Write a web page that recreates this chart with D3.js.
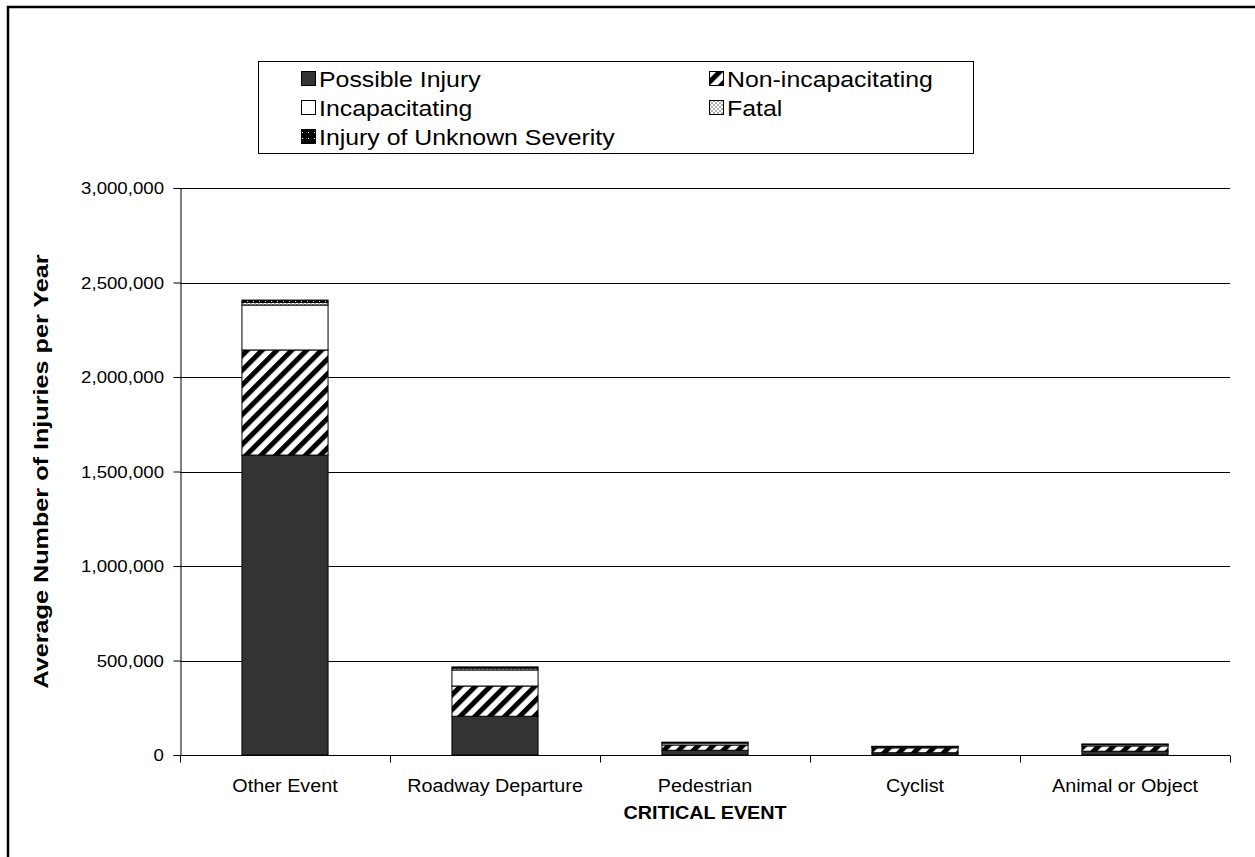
<!DOCTYPE html>
<html>
<head>
<meta charset="utf-8">
<script src="https://cdn.jsdelivr.net/npm/d3@7"></script>
<style>
  body { margin: 0; background: #fff; }
  text { font-family: "Liberation Sans", Arial, sans-serif; fill: #000; }
</style>
</head>
<body>
<div id="chart"></div>
<script>
// Data
var categories = ["Other Event", "Roadway Departure", "Pedestrian", "Cyclist", "Animal or Object"];
var possibleInjury = [1587000, 205000, 25000, 12000, 20000];
var nonIncapacitating = [556000, 160000, 28000, 26000, 28000];
var incapacitating = [238000, 85000, 10000, 6000, 7000];
var fatal = [14000, 10000, 3000, 1000, 1500];
var unknownSeverity = [12000, 6000, 2000, 1000, 1500];
var yTicks = [0, 500000, 1000000, 1500000, 2000000, 2500000, 3000000];

var seriesKeys = ["possible", "nonincap", "incap", "fatal", "unknown"];
var seriesNames = ["Possible Injury", "Non-incapacitating", "Incapacitating", "Fatal", "Injury of Unknown Severity"];

var width = 1255, height = 857;
var plot = {left: 180, right: 1230, top: 188, bottom: 755};
var stretch = 1.13;   // the source text runs a bit wider than Liberation Sans

var rows = categories.map(function(c, i) {
    return {cat: c, possible: possibleInjury[i], nonincap: nonIncapacitating[i],
            incap: incapacitating[i], fatal: fatal[i], unknown: unknownSeverity[i]};
});

var svg = d3.select("#chart").append("svg")
    .attr("width", width)
    .attr("height", height);

// text placed with a small horizontal stretch
function addText(parent, x, y, str, size, anchor, bold) {
    return parent.append("text")
        .attr("transform", "translate(" + x + "," + y + ") scale(" + stretch + ",1)")
        .attr("text-anchor", anchor || "start")
        .style("font-size", size + "px")
        .style("font-weight", bold ? "bold" : "normal")
        .text(str);
}

// patterns
var defs = svg.append("defs");

var hatch = defs.append("pattern")
    .attr("id", "hatch")
    .attr("patternUnits", "userSpaceOnUse")
    .attr("width", 10.5).attr("height", 10.5)
    .attr("patternTransform", "rotate(45)");
hatch.append("rect").attr("width", 10.5).attr("height", 10.5).attr("fill", "#fff");
hatch.append("rect").attr("width", 5).attr("height", 10.5).attr("fill", "#000");

var checker = defs.append("pattern")
    .attr("id", "checker")
    .attr("patternUnits", "userSpaceOnUse")
    .attr("width", 4).attr("height", 4);
checker.append("rect").attr("width", 4).attr("height", 4).attr("fill", "#fff");
checker.append("rect").attr("width", 2).attr("height", 2).attr("fill", "#b0b0b0");
checker.append("rect").attr("x", 2).attr("y", 2).attr("width", 2).attr("height", 2).attr("fill", "#b0b0b0");

var dots = defs.append("pattern")
    .attr("id", "dots")
    .attr("patternUnits", "userSpaceOnUse")
    .attr("width", 6).attr("height", 6);
dots.append("rect").attr("width", 6).attr("height", 6).attr("fill", "#000");
dots.append("rect").attr("x", 1).attr("y", 1).attr("width", 1).attr("height", 1).attr("fill", "#fff");

var fills = {possible: "#333333", nonincap: "url(#hatch)", incap: "#ffffff",
             fatal: "url(#checker)", unknown: "url(#dots)"};

// outer frame
svg.append("rect")
    .attr("x", 8).attr("y", 7)
    .attr("width", 1300).attr("height", 900)
    .attr("fill", "none")
    .attr("stroke", "#000")
    .attr("stroke-width", 2.5);

var x = d3.scaleBand()
    .domain(categories)
    .range([plot.left, plot.right])
    .paddingInner(0.59)
    .paddingOuter(0.295);

var xOuter = d3.scaleBand()
    .domain(categories)
    .range([plot.left, plot.right]);

var y = d3.scaleLinear()
    .domain([0, 3000000])
    .range([plot.bottom, plot.top]);

// gridlines
svg.append("g")
    .selectAll("line")
    .data(yTicks.slice(1))
    .enter().append("line")
        .attr("x1", plot.left).attr("x2", plot.right)
        .attr("y1", function(d) { return Math.round(y(d)) + 0.5; })
        .attr("y2", function(d) { return Math.round(y(d)) + 0.5; })
        .attr("stroke", "#000")
        .attr("stroke-width", 1);

// bars
var stack = d3.stack().keys(seriesKeys);

var serie = svg.append("g")
    .selectAll("g")
    .data(stack(rows))
    .enter().append("g")
        .attr("fill", function(d) { return fills[d.key]; });

serie.selectAll("rect")
    .data(function(d) { return d; })
    .enter().append("rect")
        .attr("x", function(d) { return x(d.data.cat); })
        .attr("y", function(d) { return y(d[1]); })
        .attr("width", x.bandwidth())
        .attr("height", function(d) { return y(d[0]) - y(d[1]); })
        .attr("stroke", "#000")
        .attr("stroke-width", 1);

// y axis: line and ticks from d3, labels drawn by hand to allow the stretch
var yAxis = svg.append("g")
    .attr("transform", "translate(" + (plot.left + 0.5) + ",0)")
    .call(d3.axisLeft(y).tickValues(yTicks).tickFormat("").tickSize(7));
yAxis.select(".domain").attr("stroke", "#000");

var fmt = d3.format(",");
var yLab = svg.append("g");
yTicks.forEach(function(v) {
    addText(yLab, 164, y(v) + 6, fmt(v), 16.5, "end");
});

// x axis with ticks at category boundaries
var xg = svg.append("g")
    .attr("transform", "translate(0," + (plot.bottom + 0.5) + ")");
xg.append("line")
    .attr("x1", plot.left).attr("x2", plot.right)
    .attr("stroke", "#000");
var bounds = categories.map(function(c) { return xOuter(c); }).concat([plot.right]);
xg.selectAll(".tk")
    .data(bounds)
    .enter().append("line")
        .attr("class", "tk")
        .attr("x1", function(d) { return Math.round(d) + 0.5; })
        .attr("x2", function(d) { return Math.round(d) + 0.5; })
        .attr("y1", 0).attr("y2", 7)
        .attr("stroke", "#000");
categories.forEach(function(c) {
    addText(xg, xOuter(c) + xOuter.bandwidth() / 2, 36, c, 17.5, "middle");
});

// axis titles
addText(svg, (plot.left + plot.right) / 2, 819, "CRITICAL EVENT", 17.5, "middle", true);
svg.append("text")
    .attr("transform", "translate(48," + ((plot.top + plot.bottom) / 2) + ") rotate(-90) scale(1.2,1)")
    .attr("text-anchor", "middle")
    .style("font-size", "21px")
    .style("font-weight", "bold")
    .text("Average Number of Injuries per Year");

// legend
var legend = svg.append("g");
legend.append("rect")
    .attr("x", 258.5).attr("y", 61.5)
    .attr("width", 715).attr("height", 92)
    .attr("fill", "#fff")
    .attr("stroke", "#000");

var legendPos = [[301, 79], [709, 79], [301, 108], [709, 108], [301, 137]];

seriesKeys.forEach(function(k, i) {
    var g = legend.append("g")
        .attr("transform", "translate(" + legendPos[i][0] + "," + legendPos[i][1] + ")");
    g.append("rect")
        .attr("x", 0.5).attr("y", -7.5)
        .attr("width", 14).attr("height", 14)
        .attr("fill", fills[k])
        .attr("stroke", "#000");
    addText(g, 18, 8, seriesNames[i], 22, "start");
});
</script>
</body>
</html>
